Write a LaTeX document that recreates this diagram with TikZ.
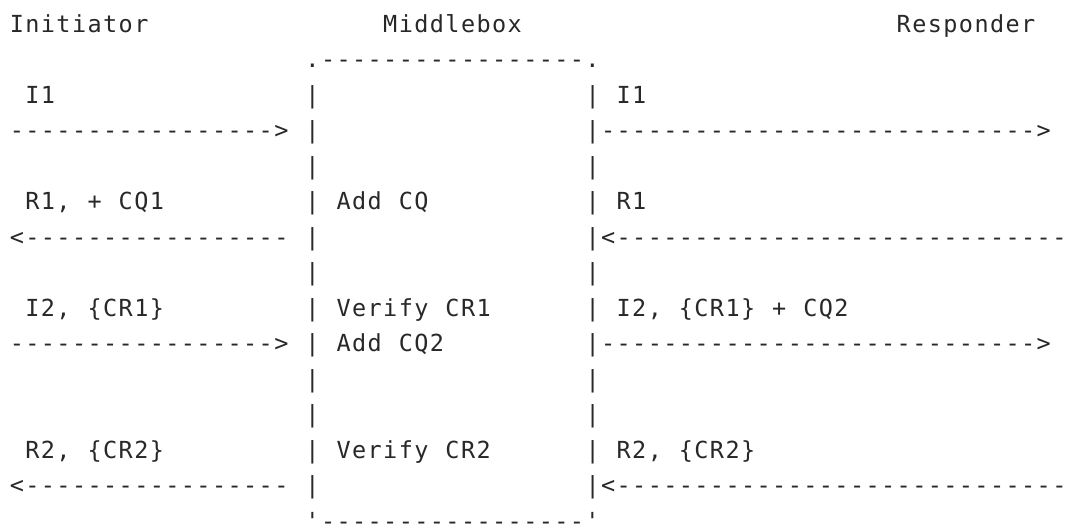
\documentclass[tikz,border=0pt]{standalone}
\usepackage{fontspec}
\setmonofont{DejaVu Sans Mono}
\definecolor{ink}{RGB}{40,40,40}
\newlength\cellw
\setlength\cellw{15.56pt}
\ExplSyntaxOn
% every character sits in a cell of fixed width, like a terminal grid
\NewDocumentCommand\cells{m}{\str_map_inline:nn{#1}{\makebox[\cellw][c]{##1}}}
\NewDocumentCommand\cellsrep{mm}{\prg_replicate:nn{#1}{\makebox[\cellw][c]{#2}}}
\ExplSyntaxOff
\tikzset{
  asc/.style={anchor=base west, inner sep=0pt, outer sep=0pt, text=ink,
    font=\ttfamily\fontsize{23.5}{23.5}\selectfont},
}
\begin{document}
\begin{tikzpicture}[x=15.56pt, y=-35.5pt]
\useasboundingbox (0pt,0pt) rectangle (1072pt,-523pt);
\begin{scope}[shift={(9.1pt,-103pt)}]
  % column headings
  \node[asc] (hInit) at (0,-2) {\cells{Initiator}};
  \node[asc] (hMid)  at (24,-2) {\cells{Middlebox}};
  \node[asc] (hResp) at (57,-2) {\cells{Responder}};
  % middlebox frame
  \node[asc] (boxTop) at (19,-1) {\cells{.}\cellsrep{17}{-}\cells{.}};
  \node[asc] (boxBot) at (19,12) {\cells{'}\cellsrep{17}{-}\cells{'}};
  \foreach \r in {0,...,11} {
    \node[asc] (lp\r) at (19,\r) {\cells{|}};
    \node[asc] (rp\r) at (37,\r) {\cells{|}};
  }
  % message labels
  \node[asc] (lI1) at (1,0)  {\cells{I1}};
  \node[asc] (rI1) at (39,0) {\cells{I1}};
  \node[asc] (lR1) at (1,3)  {\cells{R1, + CQ1}};
  \node[asc] (mR1) at (21,3) {\cells{Add CQ}};
  \node[asc] (rR1) at (39,3) {\cells{R1}};
  \node[asc] (lI2) at (1,6)  {\cells{I2, {CR1}}};
  \node[asc] (mI2) at (21,6) {\cells{Verify CR1}};
  \node[asc] (mI2b) at (21,7) {\cells{Add CQ2}};
  \node[asc] (rI2) at (39,6) {\cells{I2, {CR1} + CQ2}};
  \node[asc] (lR2) at (1,10)  {\cells{R2, {CR2}}};
  \node[asc] (mR2) at (21,10) {\cells{Verify CR2}};
  \node[asc] (rR2) at (39,10) {\cells{R2, {CR2}}};
  % arrows
  \node[asc] (aI1l) at (0,1)  {\cellsrep{17}{-}\cells{>}};
  \node[asc] (aI1r) at (38,1) {\cellsrep{28}{-}\cells{>}};
  \node[asc] (aR1l) at (0,4)  {\cells{<}\cellsrep{17}{-}};
  \node[asc] (aR1r) at (38,4) {\cells{<}\cellsrep{29}{-}};
  \node[asc] (aI2l) at (0,7)  {\cellsrep{17}{-}\cells{>}};
  \node[asc] (aI2r) at (38,7) {\cellsrep{28}{-}\cells{>}};
  \node[asc] (aR2l) at (0,11)  {\cells{<}\cellsrep{17}{-}};
  \node[asc] (aR2r) at (38,11) {\cells{<}\cellsrep{29}{-}};
\end{scope}
\end{tikzpicture}
\end{document}
